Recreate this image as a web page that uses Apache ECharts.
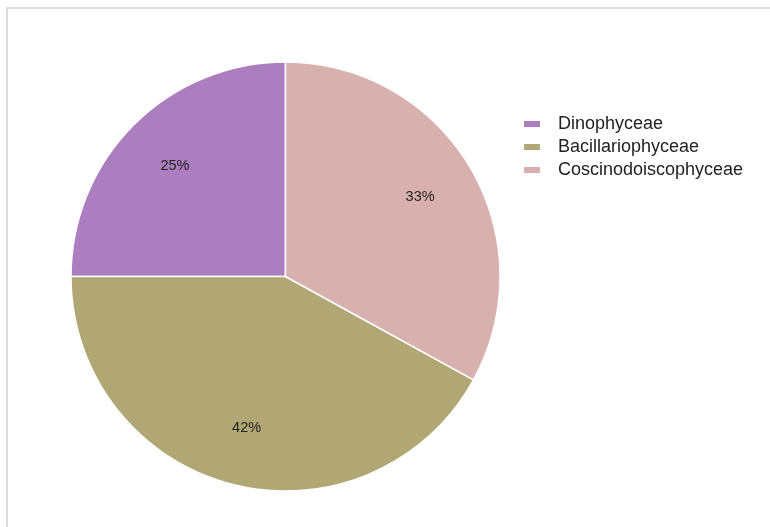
<!DOCTYPE html>
<html>
<head>
<meta charset="utf-8">
<script src="https://cdn.jsdelivr.net/npm/echarts@6/dist/echarts.min.js"></script>
<style>
html,body{margin:0;padding:0;background:#fff;width:770px;height:527px;overflow:hidden;}
#frame{position:absolute;left:6px;top:7px;width:800px;height:600px;border:2px solid #dcdcdc;box-sizing:border-box;}
#main{position:absolute;left:0;top:0;width:770px;height:527px;}
</style>
</head>
<body>
<div id="frame"></div>
<div id="main"></div>
<script>
const categories = ['Dinophyceae', 'Bacillariophyceae', 'Coscinodoiscophyceae'];
const values = [25, 42, 33];
const colors = ['#ad7ebf', '#b1a774', '#d8b1af'];

const chart = echarts.init(document.getElementById('main'), null, {renderer: 'canvas'});
const data = categories.map((c, i) => ({name: c, value: values[i], itemStyle: {color: colors[i]}}));
const center = [285.5, 276.5];
const R = 214.5;
chart.setOption({
  animation: false,
  legend: {
    orient: 'vertical',
    left: 522,
    top: 115,
    padding: 0,
    itemWidth: 18,
    itemHeight: 8,
    itemGap: 5,
    icon: 'rect',
    textStyle: {fontFamily: 'Liberation Sans, Arial', fontSize: 18, lineHeight: 18, color: '#222', padding: [0, 0, 0, 12]},
    data: categories
  },
  series: [
    {
      type: 'pie',
      center: center,
      radius: [0, R],
      startAngle: 90,
      clockwise: false,
      silent: true,
      label: {show: false},
      labelLine: {show: false},
      itemStyle: {borderColor: '#fff', borderWidth: 1.5},
      data: data
    },
    {
      type: 'pie',
      center: center,
      radius: [R * 0.43, R],
      startAngle: 90,
      clockwise: false,
      silent: true,
      legendHoverLink: false,
      itemStyle: {color: 'rgba(0,0,0,0)', borderWidth: 0},
      label: {
        show: true,
        position: 'inside',
        formatter: p => p.value + '%',
        fontFamily: 'Liberation Sans, Arial',
        fontSize: 14.5,
        color: '#222'
      },
      labelLine: {show: false},
      data: categories.map((c, i) => ({name: c + ' ', value: values[i]}))
    }
  ]
});
</script>
</body>
</html>
